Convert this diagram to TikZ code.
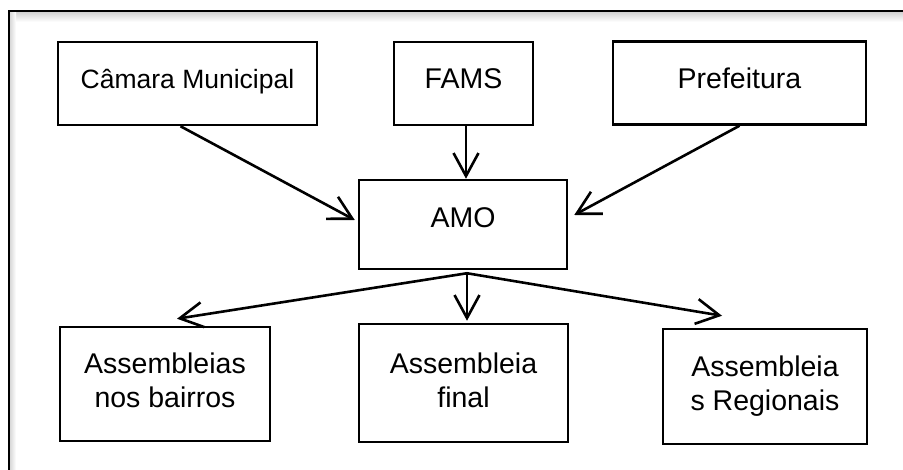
\documentclass[tikz,border=0pt]{standalone}
\usepackage{fontspec}
\setmainfont{Liberation Sans}
\usetikzlibrary{arrows.meta,calc}
\tikzset{
  box/.style={draw=black, line width=2.5pt, rectangle, inner sep=0pt, align=center,
    font=\fontsize{28.5}{34}\selectfont},
  oneline/.style={text height=20pt, text depth=9pt},
  arr/.style={line width=2.6pt, -{Straight Barb[length=23pt,width=25pt,line width=2.6pt]}},
}
\begin{document}
\begin{tikzpicture}[x=1pt,y=-1pt]
\useasboundingbox (0,0) rectangle (903,470);
% outer frame with soft shadow
\shade[top color=gray!35, bottom color=white] (10,12) rectangle (903,22);
\shade[left color=gray!30, right color=white] (10,12) rectangle (16,470);
\draw[line width=2.8pt] (9,470) -- (9,11) -- (903,11);
% boxes
\node[box, oneline, font=\fontsize{26.5}{32}\selectfont, minimum width=259pt, minimum height=83pt] (cam) at (187.5,83.5) {Câmara Municipal};
\node[box, oneline, minimum width=139pt, minimum height=83pt] (fams) at (463.5,83.5) {FAMS};
\node[box, oneline, minimum width=253pt, minimum height=83pt] (pref) at (739.5,83) {Prefeitura};
\node[box, oneline, text depth=13pt, minimum width=208pt, minimum height=89pt] (amo) at (463,224.5) {AMO};
\node[box, text depth=8pt, minimum width=210pt, minimum height=114pt] (bai) at (165,384) {Assembleias\\nos bairros};
\node[box, text depth=6pt, minimum width=209pt, minimum height=118pt] (fin) at (463.5,383) {Assembleia\\final};
\node[box, minimum width=204pt, minimum height=115pt] (reg) at (765,386.5) {Assembleia\\s Regionais};
% connectors
\coordinate (camtip) at ($(amo.west)+(-3,-4.5)$);
\coordinate (preftip) at ($(amo.east)+(6,-9.5)$);
\coordinate (br) at ($(amo.south)+(4,3)$);
\coordinate (baitip) at ($(bai.north)+(12,-7)$);
\coordinate (fintip) at ($(fin.north)+(3.5,-2)$);
\coordinate (regtip) at ($(reg.north)+(-43,-12)$);
\draw[arr] ($(cam.south)+(-7,0)$) -- (camtip);
\draw[arr] ($(fams.south)+(2.5,0)$) -- ($(amo.north)+(3,0)$);
\draw[arr] (pref.south) -- (preftip);
\draw[arr] (br) -- (baitip);
\draw[arr] (br) -- (fintip);
\draw[arr] (br) -- (regtip);
\end{tikzpicture}
\end{document}
